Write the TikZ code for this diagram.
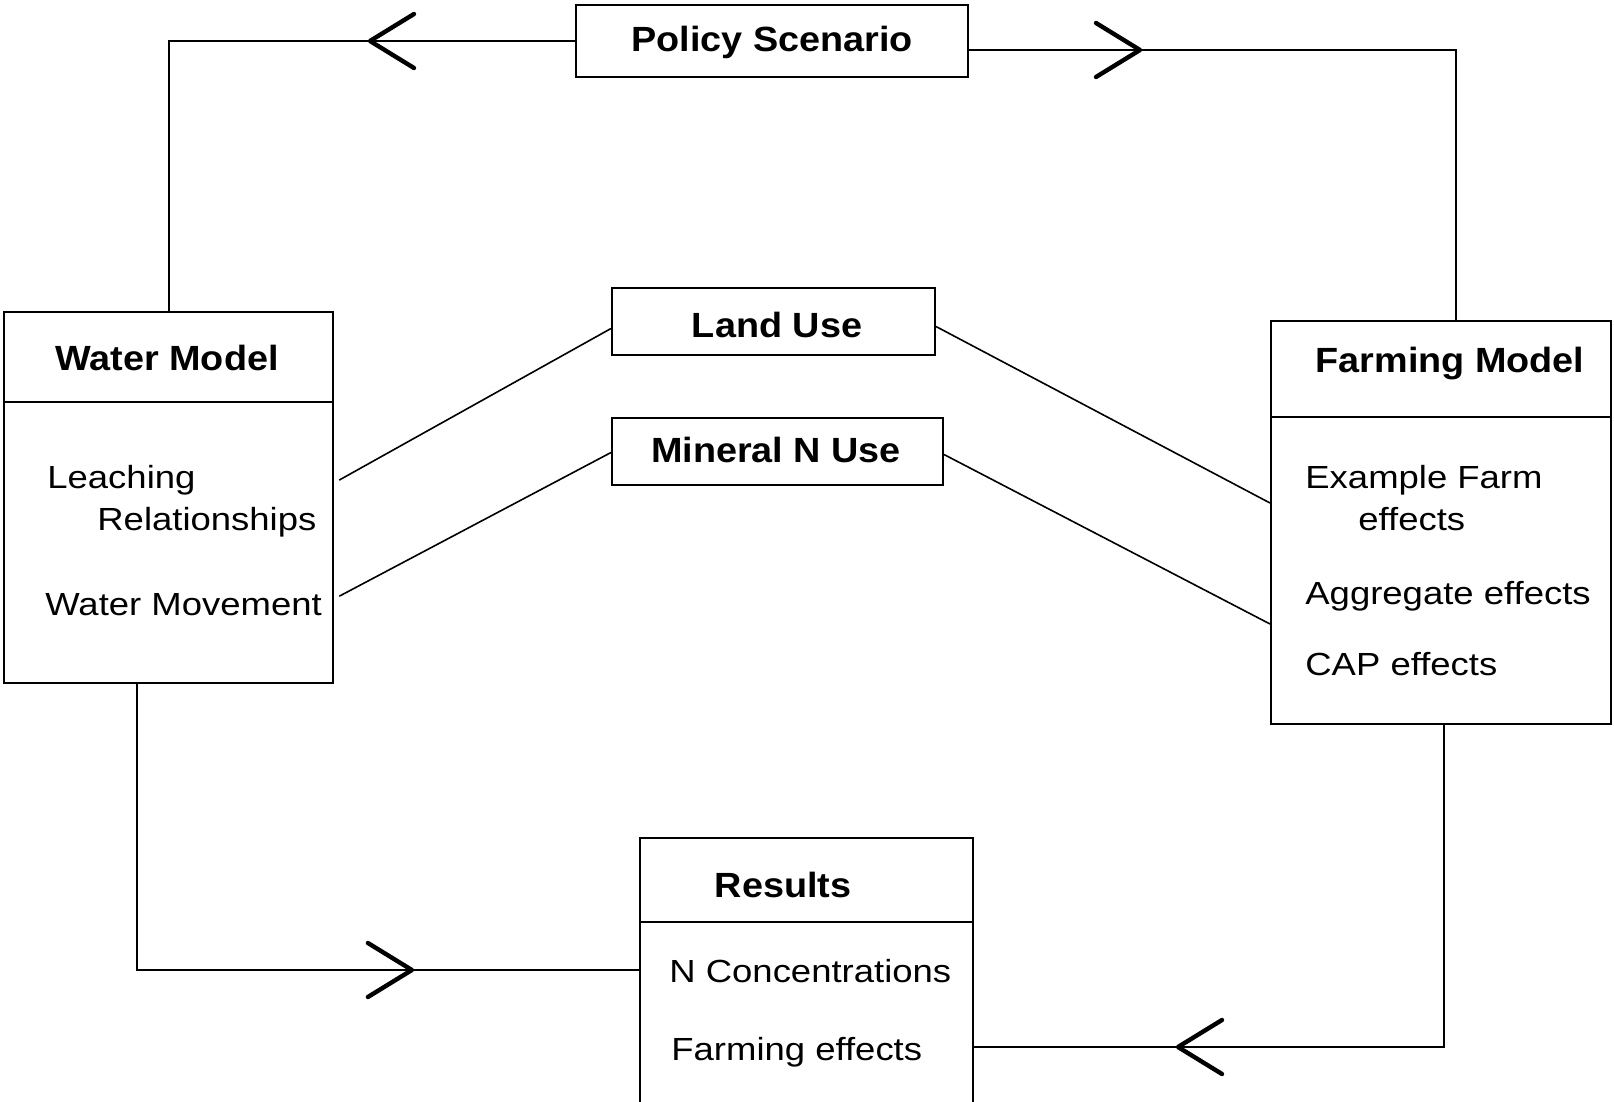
\documentclass[tikz,border=0pt]{standalone}
\usepackage{fontspec}
\setmainfont{Liberation Sans}[FakeStretch=1.14]
\newfontfamily\headfont{Liberation Sans}[FakeStretch=1.08]
\usetikzlibrary{calc,fit,decorations.markings}

\tikzset{
  box/.style={draw, line width=1pt, inner sep=0pt},
  rule/.style={line width=1pt},
  heading/.style={font=\headfont\bfseries\fontsize{17.5}{20}\selectfont, anchor=base, inner sep=0pt},
  item/.style={font=\fontsize{16}{19}\selectfont, anchor=base west, inner sep=0pt},
  conn/.style={line width=1pt},
  link/.style={line width=0.8pt},
  barb/.style={postaction={decorate},
    decoration={markings, mark=at position #1 with {%
      \draw[line width=2.2pt, line cap=round, line join=round]
        (-22pt,13.5pt) -- (0pt,0pt) -- (-22pt,-13.5pt);}}},
}

\begin{document}
\begin{tikzpicture}[x=0.5pt, y=-0.5pt]
\path[use as bounding box, clip] (0,0) rectangle (1614,1102);
\fill[white] (0,0) rectangle (1614,1102);

% policy scenario
\node[box, fit={(576,5) (968,77)}] (ps) {};
\node[heading] (ps-t) at (772,52) {Policy Scenario};

% water model
\node[box, fit={(4,312) (333,683)}] (wm) {};
\draw[rule] (wm.west |- 0,402) -- (wm.east |- 0,402);
\node[heading] (wm-t) at (167,370) {Water Model};
\node[item] (wm-i1) at (47,488) {Leaching};
\node[item] (wm-i2) at (97,530) {Relationships};
\node[item] (wm-i3) at (45,615) {Water Movement};

% land use and mineral N use
\node[box, fit={(612,288) (935,355)}] (lu) {};
\node[heading] (lu-t) at (777,337) {Land Use};
\node[box, fit={(612,418) (943,485)}] (mn) {};
\node[heading] (mn-t) at (776,462) {Mineral N Use};

% farming model
\node[box, fit={(1271,321) (1611,724)}] (fm) {};
\draw[rule] (fm.west |- 0,417) -- (fm.east |- 0,417);
\node[heading] (fm-t) at (1450,372) {Farming Model};
\node[item] (fm-i1) at (1305,488) {Example Farm};
\node[item] (fm-i2) at (1358,530) {effects};
\node[item] (fm-i3) at (1305,604) {Aggregate effects};
\node[item] (fm-i4) at (1305,675) {CAP effects};

% results
\node[box, fit={(640,838) (973,1160)}] (res) {};
\draw[rule] (res.west |- 0,922) -- (res.east |- 0,922);
\node[heading] (res-t) at (783,897) {Results};
\node[item] (res-i1) at (669,982) {N Concentrations};
\node[item] (res-i2) at (671,1060) {Farming effects};

% attachment points on box edges
\coordinate (wm-o1) at (wm.east |- 0,483);
\coordinate (wm-o2) at (wm.east |- 0,599);
\coordinate (fm-in1) at (fm.west |- 0,503);
\coordinate (fm-in2) at (fm.west |- 0,624);
\coordinate (res-inw) at (res.west |- 0,970);
\coordinate (res-ine) at (res.east |- 0,1047);

% scenario feeds both models
\draw[conn, barb=102.5pt] (ps.west) -| (wm.north);
\draw[conn, barb=85.5pt] ($(ps.east)+(0,9)$) -| ($(fm.north)+(15,0)$);

% shared data links
\draw[link, shorten <=3pt] (wm-o1) -- ($(lu.west)+(0,7)$);
\draw[link, shorten <=3pt] (wm-o2) -- ($(mn.west)+(0,1)$);
\draw[link] ($(lu.east)+(0,5)$) -- (fm-in1);
\draw[link] ($(mn.east)+(0,3)$) -- (fm-in2);

% both models feed the results
\draw[conn, barb=280.7pt] ($(wm.south)+(-32,0)$) |- (res-inw);
\draw[conn, barb=294pt] ($(fm.south)+(3,0)$) |- (res-ine);
\end{tikzpicture}
\end{document}
